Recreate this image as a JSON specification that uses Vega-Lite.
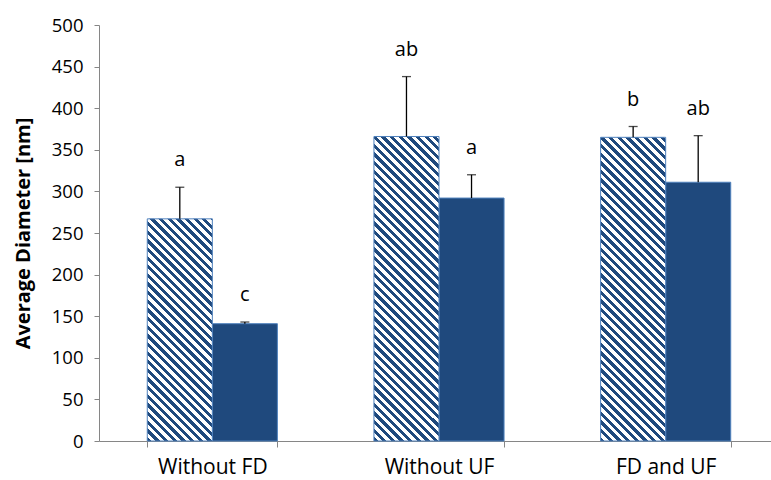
{
  "$schema": "https://vega.github.io/schema/vega-lite/v6.json",
  "width": 672,
  "height": 416,
  "autosize": {"type": "none"},
  "padding": {"left": 99, "top": 25, "right": 0, "bottom": 39},
  "background": "white",
  "config": {"view": {"stroke": null}, "font": "Open Sans", "axis": {"grid": false}},
  "data": {"values": [
    {"group": "Without FD", "series": "1", "value": 267, "err": 305, "letter": "a"},
    {"group": "Without FD", "series": "2", "value": 141, "err": 143, "letter": "c"},
    {"group": "Without UF", "series": "1", "value": 366, "err": 438, "letter": "ab"},
    {"group": "Without UF", "series": "2", "value": 292, "err": 320, "letter": "a"},
    {"group": "FD and UF", "series": "1", "value": 365, "err": 378, "letter": "b"},
    {"group": "FD and UF", "series": "2", "value": 311, "err": 367, "letter": "ab"}
  ]},
  "encoding": {
    "x": {
      "field": "group", "type": "nominal",
      "sort": ["Without FD", "Without UF", "FD and UF"],
      "scale": {"range": [0, 680], "paddingInner": 0.426, "paddingOuter": 0.213},
      "axis": {
        "title": null, "labelAngle": 0, "tickBand": "extent",
        "domainColor": "#868686", "tickColor": "#868686", "tickSize": 6,
        "labelFontSize": 21, "labelColor": "#000000", "labelPadding": 9
      }
    },
    "xOffset": {"field": "series", "type": "nominal", "sort": ["1", "2"]},
    "y": {
      "field": "value", "type": "quantitative",
      "scale": {"domain": [0, 500], "nice": false},
      "axis": {
        "title": "Average Diameter [nm]",
        "values": [0, 50, 100, 150, 200, 250, 300, 350, 400, 450, 500],
        "domainColor": "#868686", "tickColor": "#868686", "tickSize": 5,
        "labelFontSize": 18.5, "labelColor": "#000000", "labelPadding": 11,
        "titleFontSize": 20, "titleFontWeight": "bold", "titleColor": "#000000", "titlePadding": 18
      }
    }
  },
  "layer": [
    {
      "transform": [{"filter": "datum.series == '2'"}],
      "mark": {"type": "bar", "fill": "#1F497D", "stroke": "#4F81BD", "strokeWidth": 1}
    },
    {
      "transform": [{"filter": "datum.series == '1' && datum.group == 'Without FD'"}],
      "mark": {"type": "bar", "stroke": "#4F81BD", "strokeWidth": 1, "fill": {"gradient": "linear", "x1": 0, "y1": 1, "x2": 0.4614, "y2": -0.5755, "stops": [
        {"offset": 0, "color": "#1F497D"}, {"offset": 0.01136, "color": "#1F497D"}, {"offset": 0.01136, "color": "#FFFFFF"}, {"offset": 0.02273, "color": "#FFFFFF"},
        {"offset": 0.02273, "color": "#1F497D"}, {"offset": 0.03409, "color": "#1F497D"}, {"offset": 0.03409, "color": "#FFFFFF"}, {"offset": 0.04545, "color": "#FFFFFF"},
        {"offset": 0.04545, "color": "#1F497D"}, {"offset": 0.05682, "color": "#1F497D"}, {"offset": 0.05682, "color": "#FFFFFF"}, {"offset": 0.06818, "color": "#FFFFFF"},
        {"offset": 0.06818, "color": "#1F497D"}, {"offset": 0.07955, "color": "#1F497D"}, {"offset": 0.07955, "color": "#FFFFFF"}, {"offset": 0.09091, "color": "#FFFFFF"},
        {"offset": 0.09091, "color": "#1F497D"}, {"offset": 0.10227, "color": "#1F497D"}, {"offset": 0.10227, "color": "#FFFFFF"}, {"offset": 0.11364, "color": "#FFFFFF"},
        {"offset": 0.11364, "color": "#1F497D"}, {"offset": 0.125, "color": "#1F497D"}, {"offset": 0.125, "color": "#FFFFFF"}, {"offset": 0.13636, "color": "#FFFFFF"},
        {"offset": 0.13636, "color": "#1F497D"}, {"offset": 0.14773, "color": "#1F497D"}, {"offset": 0.14773, "color": "#FFFFFF"}, {"offset": 0.15909, "color": "#FFFFFF"},
        {"offset": 0.15909, "color": "#1F497D"}, {"offset": 0.17045, "color": "#1F497D"}, {"offset": 0.17045, "color": "#FFFFFF"}, {"offset": 0.18182, "color": "#FFFFFF"},
        {"offset": 0.18182, "color": "#1F497D"}, {"offset": 0.19318, "color": "#1F497D"}, {"offset": 0.19318, "color": "#FFFFFF"}, {"offset": 0.20455, "color": "#FFFFFF"},
        {"offset": 0.20455, "color": "#1F497D"}, {"offset": 0.21591, "color": "#1F497D"}, {"offset": 0.21591, "color": "#FFFFFF"}, {"offset": 0.22727, "color": "#FFFFFF"},
        {"offset": 0.22727, "color": "#1F497D"}, {"offset": 0.23864, "color": "#1F497D"}, {"offset": 0.23864, "color": "#FFFFFF"}, {"offset": 0.25, "color": "#FFFFFF"},
        {"offset": 0.25, "color": "#1F497D"}, {"offset": 0.26136, "color": "#1F497D"}, {"offset": 0.26136, "color": "#FFFFFF"}, {"offset": 0.27273, "color": "#FFFFFF"},
        {"offset": 0.27273, "color": "#1F497D"}, {"offset": 0.28409, "color": "#1F497D"}, {"offset": 0.28409, "color": "#FFFFFF"}, {"offset": 0.29545, "color": "#FFFFFF"},
        {"offset": 0.29545, "color": "#1F497D"}, {"offset": 0.30682, "color": "#1F497D"}, {"offset": 0.30682, "color": "#FFFFFF"}, {"offset": 0.31818, "color": "#FFFFFF"},
        {"offset": 0.31818, "color": "#1F497D"}, {"offset": 0.32955, "color": "#1F497D"}, {"offset": 0.32955, "color": "#FFFFFF"}, {"offset": 0.34091, "color": "#FFFFFF"},
        {"offset": 0.34091, "color": "#1F497D"}, {"offset": 0.35227, "color": "#1F497D"}, {"offset": 0.35227, "color": "#FFFFFF"}, {"offset": 0.36364, "color": "#FFFFFF"},
        {"offset": 0.36364, "color": "#1F497D"}, {"offset": 0.375, "color": "#1F497D"}, {"offset": 0.375, "color": "#FFFFFF"}, {"offset": 0.38636, "color": "#FFFFFF"},
        {"offset": 0.38636, "color": "#1F497D"}, {"offset": 0.39773, "color": "#1F497D"}, {"offset": 0.39773, "color": "#FFFFFF"}, {"offset": 0.40909, "color": "#FFFFFF"},
        {"offset": 0.40909, "color": "#1F497D"}, {"offset": 0.42045, "color": "#1F497D"}, {"offset": 0.42045, "color": "#FFFFFF"}, {"offset": 0.43182, "color": "#FFFFFF"},
        {"offset": 0.43182, "color": "#1F497D"}, {"offset": 0.44318, "color": "#1F497D"}, {"offset": 0.44318, "color": "#FFFFFF"}, {"offset": 0.45455, "color": "#FFFFFF"},
        {"offset": 0.45455, "color": "#1F497D"}, {"offset": 0.46591, "color": "#1F497D"}, {"offset": 0.46591, "color": "#FFFFFF"}, {"offset": 0.47727, "color": "#FFFFFF"},
        {"offset": 0.47727, "color": "#1F497D"}, {"offset": 0.48864, "color": "#1F497D"}, {"offset": 0.48864, "color": "#FFFFFF"}, {"offset": 0.5, "color": "#FFFFFF"},
        {"offset": 0.5, "color": "#1F497D"}, {"offset": 0.51136, "color": "#1F497D"}, {"offset": 0.51136, "color": "#FFFFFF"}, {"offset": 0.52273, "color": "#FFFFFF"},
        {"offset": 0.52273, "color": "#1F497D"}, {"offset": 0.53409, "color": "#1F497D"}, {"offset": 0.53409, "color": "#FFFFFF"}, {"offset": 0.54545, "color": "#FFFFFF"},
        {"offset": 0.54545, "color": "#1F497D"}, {"offset": 0.55682, "color": "#1F497D"}, {"offset": 0.55682, "color": "#FFFFFF"}, {"offset": 0.56818, "color": "#FFFFFF"},
        {"offset": 0.56818, "color": "#1F497D"}, {"offset": 0.57955, "color": "#1F497D"}, {"offset": 0.57955, "color": "#FFFFFF"}, {"offset": 0.59091, "color": "#FFFFFF"},
        {"offset": 0.59091, "color": "#1F497D"}, {"offset": 0.60227, "color": "#1F497D"}, {"offset": 0.60227, "color": "#FFFFFF"}, {"offset": 0.61364, "color": "#FFFFFF"},
        {"offset": 0.61364, "color": "#1F497D"}, {"offset": 0.625, "color": "#1F497D"}, {"offset": 0.625, "color": "#FFFFFF"}, {"offset": 0.63636, "color": "#FFFFFF"},
        {"offset": 0.63636, "color": "#1F497D"}, {"offset": 0.64773, "color": "#1F497D"}, {"offset": 0.64773, "color": "#FFFFFF"}, {"offset": 0.65909, "color": "#FFFFFF"},
        {"offset": 0.65909, "color": "#1F497D"}, {"offset": 0.67045, "color": "#1F497D"}, {"offset": 0.67045, "color": "#FFFFFF"}, {"offset": 0.68182, "color": "#FFFFFF"},
        {"offset": 0.68182, "color": "#1F497D"}, {"offset": 0.69318, "color": "#1F497D"}, {"offset": 0.69318, "color": "#FFFFFF"}, {"offset": 0.70455, "color": "#FFFFFF"},
        {"offset": 0.70455, "color": "#1F497D"}, {"offset": 0.71591, "color": "#1F497D"}, {"offset": 0.71591, "color": "#FFFFFF"}, {"offset": 0.72727, "color": "#FFFFFF"},
        {"offset": 0.72727, "color": "#1F497D"}, {"offset": 0.73864, "color": "#1F497D"}, {"offset": 0.73864, "color": "#FFFFFF"}, {"offset": 0.75, "color": "#FFFFFF"},
        {"offset": 0.75, "color": "#1F497D"}, {"offset": 0.76136, "color": "#1F497D"}, {"offset": 0.76136, "color": "#FFFFFF"}, {"offset": 0.77273, "color": "#FFFFFF"},
        {"offset": 0.77273, "color": "#1F497D"}, {"offset": 0.78409, "color": "#1F497D"}, {"offset": 0.78409, "color": "#FFFFFF"}, {"offset": 0.79545, "color": "#FFFFFF"}
      ]}}
    },
    {
      "transform": [{"filter": "datum.series == '1' && datum.group == 'Without UF'"}],
      "mark": {"type": "bar", "stroke": "#4F81BD", "strokeWidth": 1, "fill": {"gradient": "linear", "x1": 0, "y1": 1, "x2": 0.2549, "y2": -0.1934, "stops": [
        {"offset": 0, "color": "#1F497D"}, {"offset": 0.01136, "color": "#1F497D"}, {"offset": 0.01136, "color": "#FFFFFF"}, {"offset": 0.02273, "color": "#FFFFFF"},
        {"offset": 0.02273, "color": "#1F497D"}, {"offset": 0.03409, "color": "#1F497D"}, {"offset": 0.03409, "color": "#FFFFFF"}, {"offset": 0.04545, "color": "#FFFFFF"},
        {"offset": 0.04545, "color": "#1F497D"}, {"offset": 0.05682, "color": "#1F497D"}, {"offset": 0.05682, "color": "#FFFFFF"}, {"offset": 0.06818, "color": "#FFFFFF"},
        {"offset": 0.06818, "color": "#1F497D"}, {"offset": 0.07955, "color": "#1F497D"}, {"offset": 0.07955, "color": "#FFFFFF"}, {"offset": 0.09091, "color": "#FFFFFF"},
        {"offset": 0.09091, "color": "#1F497D"}, {"offset": 0.10227, "color": "#1F497D"}, {"offset": 0.10227, "color": "#FFFFFF"}, {"offset": 0.11364, "color": "#FFFFFF"},
        {"offset": 0.11364, "color": "#1F497D"}, {"offset": 0.125, "color": "#1F497D"}, {"offset": 0.125, "color": "#FFFFFF"}, {"offset": 0.13636, "color": "#FFFFFF"},
        {"offset": 0.13636, "color": "#1F497D"}, {"offset": 0.14773, "color": "#1F497D"}, {"offset": 0.14773, "color": "#FFFFFF"}, {"offset": 0.15909, "color": "#FFFFFF"},
        {"offset": 0.15909, "color": "#1F497D"}, {"offset": 0.17045, "color": "#1F497D"}, {"offset": 0.17045, "color": "#FFFFFF"}, {"offset": 0.18182, "color": "#FFFFFF"},
        {"offset": 0.18182, "color": "#1F497D"}, {"offset": 0.19318, "color": "#1F497D"}, {"offset": 0.19318, "color": "#FFFFFF"}, {"offset": 0.20455, "color": "#FFFFFF"},
        {"offset": 0.20455, "color": "#1F497D"}, {"offset": 0.21591, "color": "#1F497D"}, {"offset": 0.21591, "color": "#FFFFFF"}, {"offset": 0.22727, "color": "#FFFFFF"},
        {"offset": 0.22727, "color": "#1F497D"}, {"offset": 0.23864, "color": "#1F497D"}, {"offset": 0.23864, "color": "#FFFFFF"}, {"offset": 0.25, "color": "#FFFFFF"},
        {"offset": 0.25, "color": "#1F497D"}, {"offset": 0.26136, "color": "#1F497D"}, {"offset": 0.26136, "color": "#FFFFFF"}, {"offset": 0.27273, "color": "#FFFFFF"},
        {"offset": 0.27273, "color": "#1F497D"}, {"offset": 0.28409, "color": "#1F497D"}, {"offset": 0.28409, "color": "#FFFFFF"}, {"offset": 0.29545, "color": "#FFFFFF"},
        {"offset": 0.29545, "color": "#1F497D"}, {"offset": 0.30682, "color": "#1F497D"}, {"offset": 0.30682, "color": "#FFFFFF"}, {"offset": 0.31818, "color": "#FFFFFF"},
        {"offset": 0.31818, "color": "#1F497D"}, {"offset": 0.32955, "color": "#1F497D"}, {"offset": 0.32955, "color": "#FFFFFF"}, {"offset": 0.34091, "color": "#FFFFFF"},
        {"offset": 0.34091, "color": "#1F497D"}, {"offset": 0.35227, "color": "#1F497D"}, {"offset": 0.35227, "color": "#FFFFFF"}, {"offset": 0.36364, "color": "#FFFFFF"},
        {"offset": 0.36364, "color": "#1F497D"}, {"offset": 0.375, "color": "#1F497D"}, {"offset": 0.375, "color": "#FFFFFF"}, {"offset": 0.38636, "color": "#FFFFFF"},
        {"offset": 0.38636, "color": "#1F497D"}, {"offset": 0.39773, "color": "#1F497D"}, {"offset": 0.39773, "color": "#FFFFFF"}, {"offset": 0.40909, "color": "#FFFFFF"},
        {"offset": 0.40909, "color": "#1F497D"}, {"offset": 0.42045, "color": "#1F497D"}, {"offset": 0.42045, "color": "#FFFFFF"}, {"offset": 0.43182, "color": "#FFFFFF"},
        {"offset": 0.43182, "color": "#1F497D"}, {"offset": 0.44318, "color": "#1F497D"}, {"offset": 0.44318, "color": "#FFFFFF"}, {"offset": 0.45455, "color": "#FFFFFF"},
        {"offset": 0.45455, "color": "#1F497D"}, {"offset": 0.46591, "color": "#1F497D"}, {"offset": 0.46591, "color": "#FFFFFF"}, {"offset": 0.47727, "color": "#FFFFFF"},
        {"offset": 0.47727, "color": "#1F497D"}, {"offset": 0.48864, "color": "#1F497D"}, {"offset": 0.48864, "color": "#FFFFFF"}, {"offset": 0.5, "color": "#FFFFFF"},
        {"offset": 0.5, "color": "#1F497D"}, {"offset": 0.51136, "color": "#1F497D"}, {"offset": 0.51136, "color": "#FFFFFF"}, {"offset": 0.52273, "color": "#FFFFFF"},
        {"offset": 0.52273, "color": "#1F497D"}, {"offset": 0.53409, "color": "#1F497D"}, {"offset": 0.53409, "color": "#FFFFFF"}, {"offset": 0.54545, "color": "#FFFFFF"},
        {"offset": 0.54545, "color": "#1F497D"}, {"offset": 0.55682, "color": "#1F497D"}, {"offset": 0.55682, "color": "#FFFFFF"}, {"offset": 0.56818, "color": "#FFFFFF"},
        {"offset": 0.56818, "color": "#1F497D"}, {"offset": 0.57955, "color": "#1F497D"}, {"offset": 0.57955, "color": "#FFFFFF"}, {"offset": 0.59091, "color": "#FFFFFF"},
        {"offset": 0.59091, "color": "#1F497D"}, {"offset": 0.60227, "color": "#1F497D"}, {"offset": 0.60227, "color": "#FFFFFF"}, {"offset": 0.61364, "color": "#FFFFFF"},
        {"offset": 0.61364, "color": "#1F497D"}, {"offset": 0.625, "color": "#1F497D"}, {"offset": 0.625, "color": "#FFFFFF"}, {"offset": 0.63636, "color": "#FFFFFF"},
        {"offset": 0.63636, "color": "#1F497D"}, {"offset": 0.64773, "color": "#1F497D"}, {"offset": 0.64773, "color": "#FFFFFF"}, {"offset": 0.65909, "color": "#FFFFFF"},
        {"offset": 0.65909, "color": "#1F497D"}, {"offset": 0.67045, "color": "#1F497D"}, {"offset": 0.67045, "color": "#FFFFFF"}, {"offset": 0.68182, "color": "#FFFFFF"},
        {"offset": 0.68182, "color": "#1F497D"}, {"offset": 0.69318, "color": "#1F497D"}, {"offset": 0.69318, "color": "#FFFFFF"}, {"offset": 0.70455, "color": "#FFFFFF"},
        {"offset": 0.70455, "color": "#1F497D"}, {"offset": 0.71591, "color": "#1F497D"}, {"offset": 0.71591, "color": "#FFFFFF"}, {"offset": 0.72727, "color": "#FFFFFF"},
        {"offset": 0.72727, "color": "#1F497D"}, {"offset": 0.73864, "color": "#1F497D"}, {"offset": 0.73864, "color": "#FFFFFF"}, {"offset": 0.75, "color": "#FFFFFF"},
        {"offset": 0.75, "color": "#1F497D"}, {"offset": 0.76136, "color": "#1F497D"}, {"offset": 0.76136, "color": "#FFFFFF"}, {"offset": 0.77273, "color": "#FFFFFF"},
        {"offset": 0.77273, "color": "#1F497D"}, {"offset": 0.78409, "color": "#1F497D"}, {"offset": 0.78409, "color": "#FFFFFF"}, {"offset": 0.79545, "color": "#FFFFFF"},
        {"offset": 0.79545, "color": "#1F497D"}, {"offset": 0.80682, "color": "#1F497D"}, {"offset": 0.80682, "color": "#FFFFFF"}, {"offset": 0.81818, "color": "#FFFFFF"},
        {"offset": 0.81818, "color": "#1F497D"}, {"offset": 0.82955, "color": "#1F497D"}, {"offset": 0.82955, "color": "#FFFFFF"}, {"offset": 0.84091, "color": "#FFFFFF"},
        {"offset": 0.84091, "color": "#1F497D"}, {"offset": 0.85227, "color": "#1F497D"}, {"offset": 0.85227, "color": "#FFFFFF"}, {"offset": 0.86364, "color": "#FFFFFF"},
        {"offset": 0.86364, "color": "#1F497D"}, {"offset": 0.875, "color": "#1F497D"}, {"offset": 0.875, "color": "#FFFFFF"}, {"offset": 0.88636, "color": "#FFFFFF"},
        {"offset": 0.88636, "color": "#1F497D"}, {"offset": 0.89773, "color": "#1F497D"}, {"offset": 0.89773, "color": "#FFFFFF"}, {"offset": 0.90909, "color": "#FFFFFF"},
        {"offset": 0.90909, "color": "#1F497D"}, {"offset": 0.92045, "color": "#1F497D"}, {"offset": 0.92045, "color": "#FFFFFF"}, {"offset": 0.93182, "color": "#FFFFFF"},
        {"offset": 0.93182, "color": "#1F497D"}, {"offset": 0.94318, "color": "#1F497D"}, {"offset": 0.94318, "color": "#FFFFFF"}, {"offset": 0.95455, "color": "#FFFFFF"},
        {"offset": 0.95455, "color": "#1F497D"}, {"offset": 0.96591, "color": "#1F497D"}, {"offset": 0.96591, "color": "#FFFFFF"}, {"offset": 0.97727, "color": "#FFFFFF"},
        {"offset": 0.97727, "color": "#1F497D"}, {"offset": 0.98864, "color": "#1F497D"}, {"offset": 0.98864, "color": "#FFFFFF"}, {"offset": 1, "color": "#FFFFFF"}
      ]}}
    },
    {
      "transform": [{"filter": "datum.series == '1' && datum.group == 'FD and UF'"}],
      "mark": {"type": "bar", "stroke": "#4F81BD", "strokeWidth": 1, "fill": {"gradient": "linear", "x1": 0, "y1": 1, "x2": 0.2563, "y2": -0.1964, "stops": [
        {"offset": 0, "color": "#1F497D"}, {"offset": 0.01136, "color": "#1F497D"}, {"offset": 0.01136, "color": "#FFFFFF"}, {"offset": 0.02273, "color": "#FFFFFF"},
        {"offset": 0.02273, "color": "#1F497D"}, {"offset": 0.03409, "color": "#1F497D"}, {"offset": 0.03409, "color": "#FFFFFF"}, {"offset": 0.04545, "color": "#FFFFFF"},
        {"offset": 0.04545, "color": "#1F497D"}, {"offset": 0.05682, "color": "#1F497D"}, {"offset": 0.05682, "color": "#FFFFFF"}, {"offset": 0.06818, "color": "#FFFFFF"},
        {"offset": 0.06818, "color": "#1F497D"}, {"offset": 0.07955, "color": "#1F497D"}, {"offset": 0.07955, "color": "#FFFFFF"}, {"offset": 0.09091, "color": "#FFFFFF"},
        {"offset": 0.09091, "color": "#1F497D"}, {"offset": 0.10227, "color": "#1F497D"}, {"offset": 0.10227, "color": "#FFFFFF"}, {"offset": 0.11364, "color": "#FFFFFF"},
        {"offset": 0.11364, "color": "#1F497D"}, {"offset": 0.125, "color": "#1F497D"}, {"offset": 0.125, "color": "#FFFFFF"}, {"offset": 0.13636, "color": "#FFFFFF"},
        {"offset": 0.13636, "color": "#1F497D"}, {"offset": 0.14773, "color": "#1F497D"}, {"offset": 0.14773, "color": "#FFFFFF"}, {"offset": 0.15909, "color": "#FFFFFF"},
        {"offset": 0.15909, "color": "#1F497D"}, {"offset": 0.17045, "color": "#1F497D"}, {"offset": 0.17045, "color": "#FFFFFF"}, {"offset": 0.18182, "color": "#FFFFFF"},
        {"offset": 0.18182, "color": "#1F497D"}, {"offset": 0.19318, "color": "#1F497D"}, {"offset": 0.19318, "color": "#FFFFFF"}, {"offset": 0.20455, "color": "#FFFFFF"},
        {"offset": 0.20455, "color": "#1F497D"}, {"offset": 0.21591, "color": "#1F497D"}, {"offset": 0.21591, "color": "#FFFFFF"}, {"offset": 0.22727, "color": "#FFFFFF"},
        {"offset": 0.22727, "color": "#1F497D"}, {"offset": 0.23864, "color": "#1F497D"}, {"offset": 0.23864, "color": "#FFFFFF"}, {"offset": 0.25, "color": "#FFFFFF"},
        {"offset": 0.25, "color": "#1F497D"}, {"offset": 0.26136, "color": "#1F497D"}, {"offset": 0.26136, "color": "#FFFFFF"}, {"offset": 0.27273, "color": "#FFFFFF"},
        {"offset": 0.27273, "color": "#1F497D"}, {"offset": 0.28409, "color": "#1F497D"}, {"offset": 0.28409, "color": "#FFFFFF"}, {"offset": 0.29545, "color": "#FFFFFF"},
        {"offset": 0.29545, "color": "#1F497D"}, {"offset": 0.30682, "color": "#1F497D"}, {"offset": 0.30682, "color": "#FFFFFF"}, {"offset": 0.31818, "color": "#FFFFFF"},
        {"offset": 0.31818, "color": "#1F497D"}, {"offset": 0.32955, "color": "#1F497D"}, {"offset": 0.32955, "color": "#FFFFFF"}, {"offset": 0.34091, "color": "#FFFFFF"},
        {"offset": 0.34091, "color": "#1F497D"}, {"offset": 0.35227, "color": "#1F497D"}, {"offset": 0.35227, "color": "#FFFFFF"}, {"offset": 0.36364, "color": "#FFFFFF"},
        {"offset": 0.36364, "color": "#1F497D"}, {"offset": 0.375, "color": "#1F497D"}, {"offset": 0.375, "color": "#FFFFFF"}, {"offset": 0.38636, "color": "#FFFFFF"},
        {"offset": 0.38636, "color": "#1F497D"}, {"offset": 0.39773, "color": "#1F497D"}, {"offset": 0.39773, "color": "#FFFFFF"}, {"offset": 0.40909, "color": "#FFFFFF"},
        {"offset": 0.40909, "color": "#1F497D"}, {"offset": 0.42045, "color": "#1F497D"}, {"offset": 0.42045, "color": "#FFFFFF"}, {"offset": 0.43182, "color": "#FFFFFF"},
        {"offset": 0.43182, "color": "#1F497D"}, {"offset": 0.44318, "color": "#1F497D"}, {"offset": 0.44318, "color": "#FFFFFF"}, {"offset": 0.45455, "color": "#FFFFFF"},
        {"offset": 0.45455, "color": "#1F497D"}, {"offset": 0.46591, "color": "#1F497D"}, {"offset": 0.46591, "color": "#FFFFFF"}, {"offset": 0.47727, "color": "#FFFFFF"},
        {"offset": 0.47727, "color": "#1F497D"}, {"offset": 0.48864, "color": "#1F497D"}, {"offset": 0.48864, "color": "#FFFFFF"}, {"offset": 0.5, "color": "#FFFFFF"},
        {"offset": 0.5, "color": "#1F497D"}, {"offset": 0.51136, "color": "#1F497D"}, {"offset": 0.51136, "color": "#FFFFFF"}, {"offset": 0.52273, "color": "#FFFFFF"},
        {"offset": 0.52273, "color": "#1F497D"}, {"offset": 0.53409, "color": "#1F497D"}, {"offset": 0.53409, "color": "#FFFFFF"}, {"offset": 0.54545, "color": "#FFFFFF"},
        {"offset": 0.54545, "color": "#1F497D"}, {"offset": 0.55682, "color": "#1F497D"}, {"offset": 0.55682, "color": "#FFFFFF"}, {"offset": 0.56818, "color": "#FFFFFF"},
        {"offset": 0.56818, "color": "#1F497D"}, {"offset": 0.57955, "color": "#1F497D"}, {"offset": 0.57955, "color": "#FFFFFF"}, {"offset": 0.59091, "color": "#FFFFFF"},
        {"offset": 0.59091, "color": "#1F497D"}, {"offset": 0.60227, "color": "#1F497D"}, {"offset": 0.60227, "color": "#FFFFFF"}, {"offset": 0.61364, "color": "#FFFFFF"},
        {"offset": 0.61364, "color": "#1F497D"}, {"offset": 0.625, "color": "#1F497D"}, {"offset": 0.625, "color": "#FFFFFF"}, {"offset": 0.63636, "color": "#FFFFFF"},
        {"offset": 0.63636, "color": "#1F497D"}, {"offset": 0.64773, "color": "#1F497D"}, {"offset": 0.64773, "color": "#FFFFFF"}, {"offset": 0.65909, "color": "#FFFFFF"},
        {"offset": 0.65909, "color": "#1F497D"}, {"offset": 0.67045, "color": "#1F497D"}, {"offset": 0.67045, "color": "#FFFFFF"}, {"offset": 0.68182, "color": "#FFFFFF"},
        {"offset": 0.68182, "color": "#1F497D"}, {"offset": 0.69318, "color": "#1F497D"}, {"offset": 0.69318, "color": "#FFFFFF"}, {"offset": 0.70455, "color": "#FFFFFF"},
        {"offset": 0.70455, "color": "#1F497D"}, {"offset": 0.71591, "color": "#1F497D"}, {"offset": 0.71591, "color": "#FFFFFF"}, {"offset": 0.72727, "color": "#FFFFFF"},
        {"offset": 0.72727, "color": "#1F497D"}, {"offset": 0.73864, "color": "#1F497D"}, {"offset": 0.73864, "color": "#FFFFFF"}, {"offset": 0.75, "color": "#FFFFFF"},
        {"offset": 0.75, "color": "#1F497D"}, {"offset": 0.76136, "color": "#1F497D"}, {"offset": 0.76136, "color": "#FFFFFF"}, {"offset": 0.77273, "color": "#FFFFFF"},
        {"offset": 0.77273, "color": "#1F497D"}, {"offset": 0.78409, "color": "#1F497D"}, {"offset": 0.78409, "color": "#FFFFFF"}, {"offset": 0.79545, "color": "#FFFFFF"},
        {"offset": 0.79545, "color": "#1F497D"}, {"offset": 0.80682, "color": "#1F497D"}, {"offset": 0.80682, "color": "#FFFFFF"}, {"offset": 0.81818, "color": "#FFFFFF"},
        {"offset": 0.81818, "color": "#1F497D"}, {"offset": 0.82955, "color": "#1F497D"}, {"offset": 0.82955, "color": "#FFFFFF"}, {"offset": 0.84091, "color": "#FFFFFF"},
        {"offset": 0.84091, "color": "#1F497D"}, {"offset": 0.85227, "color": "#1F497D"}, {"offset": 0.85227, "color": "#FFFFFF"}, {"offset": 0.86364, "color": "#FFFFFF"},
        {"offset": 0.86364, "color": "#1F497D"}, {"offset": 0.875, "color": "#1F497D"}, {"offset": 0.875, "color": "#FFFFFF"}, {"offset": 0.88636, "color": "#FFFFFF"},
        {"offset": 0.88636, "color": "#1F497D"}, {"offset": 0.89773, "color": "#1F497D"}, {"offset": 0.89773, "color": "#FFFFFF"}, {"offset": 0.90909, "color": "#FFFFFF"},
        {"offset": 0.90909, "color": "#1F497D"}, {"offset": 0.92045, "color": "#1F497D"}, {"offset": 0.92045, "color": "#FFFFFF"}, {"offset": 0.93182, "color": "#FFFFFF"},
        {"offset": 0.93182, "color": "#1F497D"}, {"offset": 0.94318, "color": "#1F497D"}, {"offset": 0.94318, "color": "#FFFFFF"}, {"offset": 0.95455, "color": "#FFFFFF"},
        {"offset": 0.95455, "color": "#1F497D"}, {"offset": 0.96591, "color": "#1F497D"}, {"offset": 0.96591, "color": "#FFFFFF"}, {"offset": 0.97727, "color": "#FFFFFF"},
        {"offset": 0.97727, "color": "#1F497D"}, {"offset": 0.98864, "color": "#1F497D"}, {"offset": 0.98864, "color": "#FFFFFF"}, {"offset": 1, "color": "#FFFFFF"}
      ]}}
    },
    {
      "mark": {"type": "rule", "color": "#000000", "strokeWidth": 1.3},
      "encoding": {"y2": {"field": "err"}}
    },
    {
      "mark": {"type": "tick", "color": "#000000", "thickness": 1.3, "size": 9},
      "encoding": {"y": {"field": "err", "type": "quantitative"}}
    },
    {
      "mark": {"type": "text", "fontSize": 20, "color": "#000000", "baseline": "middle", "dy": -27},
      "encoding": {"y": {"field": "err", "type": "quantitative"}, "text": {"field": "letter"}}
    }
  ]
}
